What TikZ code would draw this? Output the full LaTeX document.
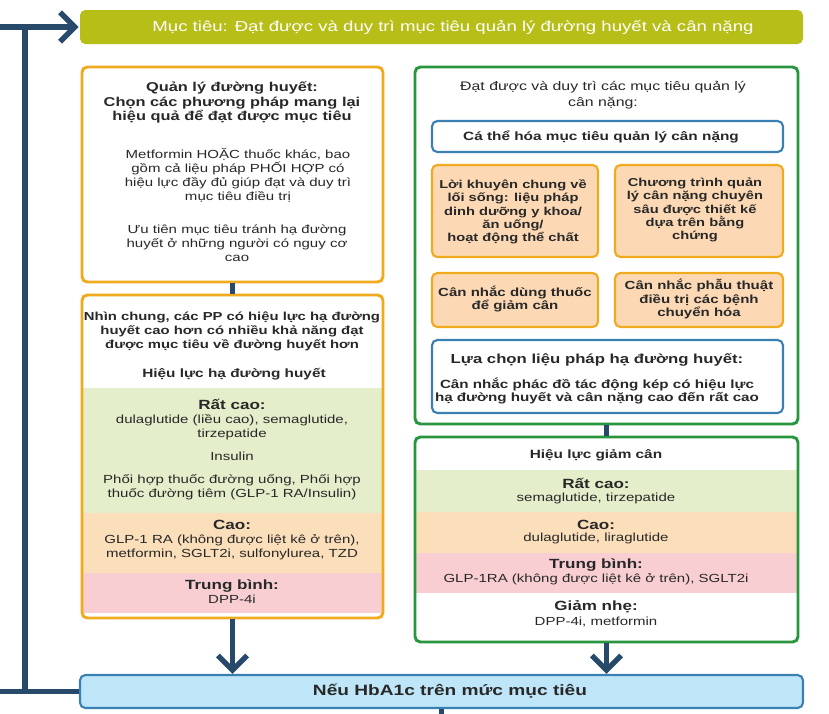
\documentclass[tikz,border=0pt]{standalone}
\usepackage{fontspec}
\setmainfont[FakeStretch=1.28]{Liberation Sans}
\usetikzlibrary{arrows.meta}
\definecolor{olive}{RGB}{183,190,24}
\definecolor{orbd}{RGB}{240,170,30}
\definecolor{grbd}{RGB}{40,150,62}
\definecolor{blbd}{RGB}{58,128,178}
\definecolor{orfill}{RGB}{252,217,180}
\definecolor{bandg}{RGB}{228,238,202}
\definecolor{bando}{RGB}{251,222,186}
\definecolor{bandp}{RGB}{248,206,210}
\definecolor{hbafill}{RGB}{190,230,248}
\definecolor{navy}{RGB}{39,73,106}
\definecolor{txt}{RGB}{40,40,40}
\newcommand{\txtsize}[2]{\fontsize{#1}{#2}\selectfont}

\begin{document}
\begin{tikzpicture}[x=0.75pt, y=-0.75pt,
  box/.style={rounded corners=4pt, line width=2.2pt, inner sep=0pt},
  obox/.style={box, draw=orbd},
  gbox/.style={box, draw=grbd},
  bbox/.style={box, draw=blbd, line width=1.6pt, fill=white},
  sbox/.style={box, draw=orbd, line width=1.6pt, fill=orfill},
  body/.style={text=txt, align=center, inner sep=0pt, font=\txtsize{8.8}{10.2}},
  head/.style={text=txt, align=center, inner sep=0pt, font=\txtsize{9.2}{10.6}\bfseries},
  link/.style={draw=navy, line width=4pt},
  flow/.style={link, -{Straight Barb[length=11pt, width=22pt]}}]
\useasboundingbox[fill=white] (0,0) rectangle (829,714);
% ---- goal and loop back
\node[box, fill=olive, minimum width=542.25pt, minimum height=25.5pt] (goal) at (441.5,27) {};
\node[text=white, font=\txtsize{10.9}{12}] at (453,27) {Mục tiêu: Đạt được và duy trì mục tiêu quản lý đường huyết và cân nặng};
\node[box, draw=blbd, line width=1.6pt, fill=hbafill, minimum width=542.25pt, minimum height=24.75pt] (hba) at (441.5,691.5) {};
\node[text=txt, font=\txtsize{11.2}{13}\bfseries] at (450,691.5) {Nếu HbA1c trên mức mục tiêu};
\coordinate (lin) at (0,27);
\coordinate (lout) at (0,691.5);
\coordinate (jtop) at (25,27);
\coordinate (jbot) at (25,691.5);
\draw[flow] (lin) -- (goal.west);
\draw[link] (jtop) -- (jbot);
\draw[link] (lout) -- (hba.west);
\draw[link] (hba.south) -- ++(0,12);
% ---- left column: glycaemia
\node[obox, fill=white, minimum width=225.75pt, minimum height=161.25pt] (glyA) at (232.5,174.5) {};
\node[head, font=\txtsize{9.6}{10.9}\bfseries] (glyTitle) at (232,102.5)
  {Quản lý đường huyết:\\Chọn các phương pháp mang lại\\hiệu quả để đạt được mục tiêu};
\node[body, font=\txtsize{8.8}{10.4}] (glyText) at (238,175.5)
  {Metformin HOẶC thuốc khác, bao\\gồm cả liệu pháp PHỐI HỢP có\\hiệu lực đầy đủ giúp đạt và duy trì\\mục tiêu điều trị};
\node[body, font=\txtsize{8.8}{10.4}] (glyHypo) at (237,243)
  {Ưu tiên mục tiêu tránh hạ đường\\huyết ở những người có nguy cơ\\cao};
\fill[bandg] (83,388) rectangle (382,513);
\fill[bando] (83,513) rectangle (382,573);
\fill[bandp] (83,573) rectangle (382,613);
\node[obox, minimum width=225.75pt, minimum height=242.25pt] (glyB) at (232.5,456.5) {};
\node[head, font=\txtsize{8.7}{10.5}\bfseries] (glyNote) at (232,331)
  {Nhìn chung, các PP có hiệu lực hạ đường\\huyết cao hơn có nhiều khả năng đạt\\được mục tiêu về đường huyết hơn};
\node[head, font=\txtsize{9}{10.5}\bfseries] (glyEff) at (234,374) {Hiệu lực hạ đường huyết};
\node[head, font=\txtsize{10}{11}\bfseries] (gVh) at (232,404) {Rất cao:};
\node[body] (gVhList) at (232,427) {dulaglutide (liều cao), semaglutide,\\tirzepatide};
\node[body] (gIns) at (232,456) {Insulin};
\node[body] (gCombo) at (232,487.5) {Phối hợp thuốc đường uống, Phối hợp\\thuốc đường tiêm (GLP-1 RA/Insulin)};
\node[head, font=\txtsize{10}{11}\bfseries] (gHi) at (232,525) {Cao:};
\node[body] (gHiList) at (232,547) {GLP-1 RA (không được liệt kê ở trên),\\metformin, SGLT2i, sulfonylurea, TZD};
\node[head, font=\txtsize{10}{11}\bfseries] (gMid) at (232,586) {Trung bình:};
\node[body] (gMidList) at (232,599.5) {DPP-4i};
\draw[link] (glyA.south) -- (glyB.north);
\draw[flow] (glyB.south) -- (hba.north -| glyB.south);
% ---- right column: weight
\node[gbox, minimum width=287.25pt, minimum height=267.75pt] (wtC) at (606.5,245.5) {};
\node[body, font=\txtsize{9.3}{12}] (wtGoal) at (603,95)
  {Đạt được và duy trì các mục tiêu quản lý\\cân nặng:};
\node[bbox, minimum width=263.25pt, minimum height=23.25pt] (pers) at (607.5,136.5) {};
\node[head, font=\txtsize{9}{10.5}\bfseries] at (601,136.5) {Cá thể hóa mục tiêu quản lý cân nặng};
\node[sbox, minimum width=124.5pt, minimum height=69pt] (life) at (515,211) {};
\node[head, font=\txtsize{8.6}{10}\bfseries] at (513,212)
  {Lời khuyên chung về\\lối sống: liệu pháp\\dinh dưỡng y khoa/\\ăn uống/\\hoạt động thể chất};
\node[sbox, minimum width=126pt, minimum height=69pt] (prog) at (699,211) {};
\node[head, font=\txtsize{8.6}{10}\bfseries] at (695,210)
  {Chương trình quản\\lý cân nặng chuyên\\sâu được thiết kế\\dựa trên bằng\\chứng};
\node[sbox, minimum width=124.5pt, minimum height=40.5pt] (drug) at (515,300) {};
\node[head, font=\txtsize{8.8}{9.6}\bfseries] at (515,299) {Cân nhắc dùng thuốc\\để giảm cân};
\node[sbox, minimum width=126pt, minimum height=40.5pt] (surg) at (699,300) {};
\node[head, font=\txtsize{8.8}{10.4}\bfseries] at (699,299) {Cân nhắc phẫu thuật\\điều trị các bệnh\\chuyển hóa};
\node[bbox, minimum width=263.25pt, minimum height=54.75pt] (choice) at (607.5,376.5) {};
\node[head, font=\txtsize{9.8}{11}\bfseries] at (597,360) {Lựa chọn liệu pháp hạ đường huyết:};
\node[head, font=\txtsize{8.9}{10.3}\bfseries] at (597,391)
  {Cân nhắc phác đồ tác động kép có hiệu lực\\hạ đường huyết và cân nặng cao đến rất cao};
\fill[bandg] (416,470) rectangle (797,512);
\fill[bando] (416,512) rectangle (797,553);
\fill[bandp] (416,553) rectangle (797,593);
\node[gbox, minimum width=287.25pt, minimum height=153.75pt] (wtD) at (606.5,539.5) {};
\node[head, font=\txtsize{9}{10.5}\bfseries] (wtEff) at (596,455) {Hiệu lực giảm cân};
\node[head, font=\txtsize{10}{11}\bfseries] (wVh) at (596,483) {Rất cao:};
\node[body] (wVhList) at (596,498) {semaglutide, tirzepatide};
\node[head, font=\txtsize{10}{11}\bfseries] (wHi) at (596,525) {Cao:};
\node[body] (wHiList) at (596,538.5) {dulaglutide, liraglutide};
\node[head, font=\txtsize{10}{11}\bfseries] (wMid) at (596,565) {Trung bình:};
\node[body] (wMidList) at (596,579) {GLP-1RA (không được liệt kê ở trên), SGLT2i};
\node[head, font=\txtsize{10}{11}\bfseries] (wLow) at (596,607) {Giảm nhẹ:};
\node[body] (wLowList) at (596,622) {DPP-4i, metformin};
\draw[link] (wtC.south) -- (wtD.north);
\draw[flow] (wtD.south) -- (hba.north -| wtD.south);
\end{tikzpicture}
\end{document}
